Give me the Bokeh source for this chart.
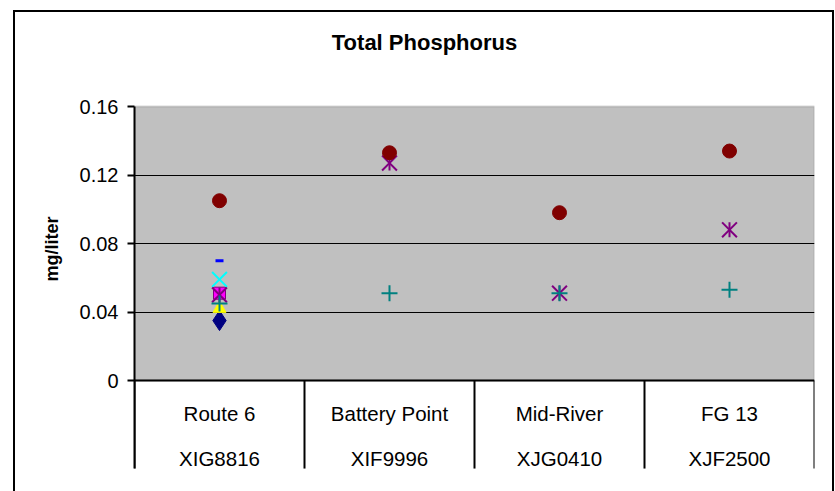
import math
from bokeh.plotting import figure
from bokeh.models import (FactorRange, Range1d, FixedTicker, Label, BoxAnnotation,
                          ColumnDataSource, Title)
from bokeh.core.properties import value
from bokeh.embed import file_html
from bokeh.resources import INLINE

# ---- data ----
sites = ["Route 6", "Battery Point", "Mid-River", "FG 13"]
codes = ["XIG8816", "XIF9996", "XJG0410", "XJF2500"]
y_ticks = [0, 0.04, 0.08, 0.12, 0.16]
y_tick_labels = ["0", "0.04", "0.08", "0.12", "0.16"]

series1 = [0.035, None, None, None]     # navy diamond
series2 = [0.051, None, None, None]     # magenta square
series3 = [0.042, None, None, None]     # yellow triangle
series4 = [0.059, None, None, None]     # cyan x
series5 = [0.050, 0.127, 0.051, 0.088]  # purple star
series6 = [0.105, 0.133, 0.098, 0.134]  # dark red circle
series7 = [0.045, 0.051, 0.051, 0.053]  # teal plus
series8 = [0.070, None, None, None]     # blue dash

FONT = "Liberation Sans"
Y_MAX = 0.16          # top of plot area
Y_TOP = 0.2149        # top of canvas (title space)
Y_BOTTOM = -0.0648    # bottom of canvas
Y_DIV = -0.0514       # lower end of category dividers

p = figure(width=817, height=479, output_backend="svg", toolbar_location=None, title=None,
           x_range=FactorRange(factors=sites, range_padding=0),
           y_range=Range1d(Y_BOTTOM, Y_TOP),
           x_axis_location=None,
           min_border_left=119, min_border_right=18, min_border_top=0, min_border_bottom=0,
           styles={"margin-left": "15px", "margin-top": "12px",
                   "outline": "2px solid black"})
p.outline_line_color = None
p.background_fill_color = "white"
p.border_fill_color = "white"

# chart title
p.add_layout(Label(x=290, y=0.1975, x_units="screen", text="Total Phosphorus",
                   text_align="center", text_baseline="middle", text_font=FONT,
                   text_font_size="22px", text_font_style="bold", text_color="black"))

# plot area (gray)
p.add_layout(BoxAnnotation(bottom=0, top=Y_MAX, fill_color="#C0C0C0", fill_alpha=1,
                           line_color="#808080", line_width=2, level="image"))

# grid
p.xgrid.visible = False
p.ygrid.ticker = FixedTicker(ticks=[0.04, 0.08, 0.12])
p.ygrid.grid_line_color = "black"
p.ygrid.grid_line_width = 1

# y axis
ya = p.yaxis[0]
ya.bounds = (Y_DIV, Y_MAX)
ya.ticker = FixedTicker(ticks=y_ticks)
ya.major_label_overrides = {t: l for t, l in zip(y_ticks, y_tick_labels)}
ya.major_label_text_font = FONT
ya.major_label_text_font_size = "20px"
ya.major_label_text_color = "black"
ya.major_tick_in = 0
ya.major_tick_out = 7
ya.major_tick_line_width = 2
ya.major_tick_line_color = "black"
ya.minor_tick_line_color = None
ya.axis_line_color = "black"
ya.axis_line_width = 2
ya.major_label_standoff = 9

p.add_layout(Title(text="mg/liter", align="right", offset=204, standoff=30,
                   text_font=FONT, text_font_size="18px", text_font_style="bold",
                   text_color="black"), "left")

# zero line and category dividers
p.segment(x0=[(sites[0], -0.5)], x1=[(sites[-1], 0.5)], y0=[0], y1=[0],
          line_color="black", line_width=2)
div_x = [(s, -0.5) for s in sites] + [(sites[-1], 0.5)]
p.segment(x0=div_x, x1=div_x, y0=[0] * len(div_x), y1=[Y_DIV] * len(div_x),
          line_color="black", line_width=2)

# category labels
p.text(x=sites, y=[-0.0193] * 4, text=sites, text_align="center", text_baseline="middle",
       text_font=value(FONT), text_font_size="20.5px", text_color="black")
p.text(x=sites, y=[-0.0455] * 4, text=codes, text_align="center", text_baseline="middle",
       text_font=value(FONT), text_font_size="20.5px", text_color="black")


def pts(vals):
    xs = [s for s, v in zip(sites, vals) if v is not None]
    ys = [v for v in vals if v is not None]
    return ColumnDataSource(dict(x=xs, y=ys))


# series markers (Excel default order / styles)
p.scatter("x", "y", source=pts(series1), marker="diamond", size=20,
          fill_color="#000080", line_color="#000080")
p.scatter("x", "y", source=pts(series2), marker="square", size=12,
          fill_color="#FF00FF", line_color="#800080", line_width=1)
p.scatter("x", "y", source=pts(series3), marker="triangle", size=13,
          fill_color="#FFFF00", line_color="#FFFF00")
p.scatter("x", "y", source=pts(series4), marker="x", size=21,
          line_color="#00FFFF", line_width=2)
s5 = pts(series5)
p.scatter("x", "y", source=s5, marker="x", size=21, line_color="#800080", line_width=2)
p.scatter("x", "y", source=s5, marker="dash", angle=math.pi / 2, size=15,
          line_color="#800080", line_width=2)
p.scatter("x", "y", source=pts(series6), marker="circle", size=14,
          fill_color="#800000", line_color="#800000")
p.scatter("x", "y", source=pts(series7), marker="cross", size=16,
          line_color="#008080", line_width=2)
p.scatter("x", "y", source=pts(series8), marker="dash", size=8,
          line_color="#0000FF", line_width=3)

open("out.html", "w").write(file_html(p, INLINE))
